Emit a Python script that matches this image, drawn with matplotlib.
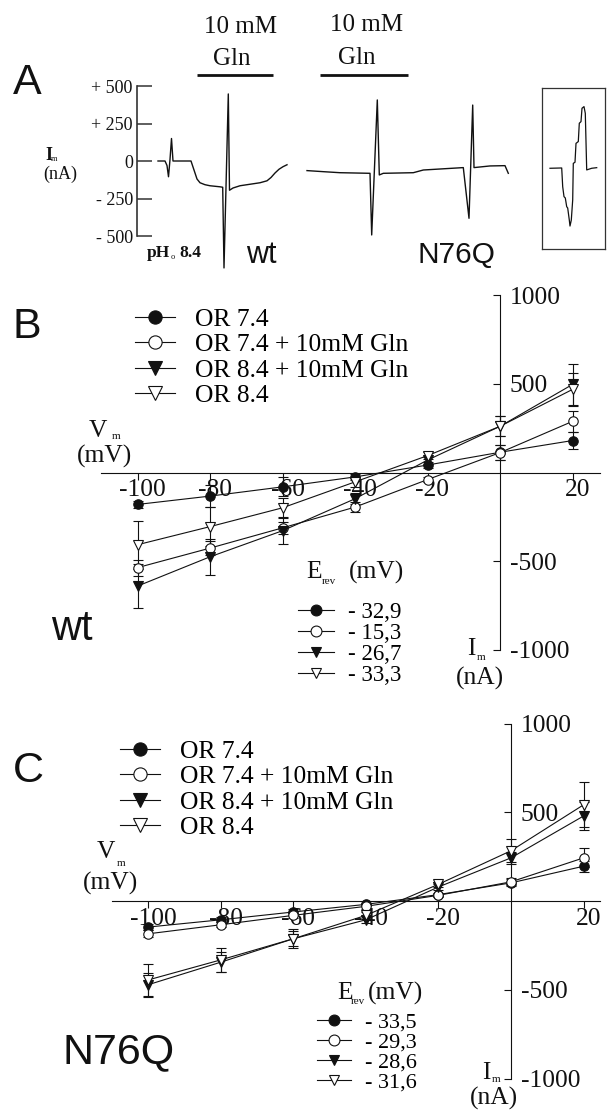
import matplotlib
matplotlib.use('Agg')
import matplotlib.pyplot as plt
from matplotlib.transforms import ScaledTranslation

plt.rcParams['axes.unicode_minus'] = False

W, H, DPI = 607, 1111, 100
SERIF = 'Liberation Serif'
SANS = 'Liberation Sans'
INK = '#111111'

# ---------------- data ----------------
# Panel A: current traces, t in s from start of each trace, I in nA
wt_trace_t = [0, 7, 9, 10.5, 12, 13.5, 15, 33, 36, 39, 42, 47, 52, 62, 64.7, 66,
              70.3, 71.5, 75, 82, 92, 102, 109, 113, 117, 121, 125, 129]
wt_trace_i = [0, 0, -30, -105, 10, 150, 0, 0, -60, -120, -145, -158, -165, -172, -175, -713,
              447, -195, -180, -165, -155, -145, -132, -110, -80, -55, -38, -25]
n76q_trace_t = [0, 16, 33, 63, 64.7, 70.3, 72.3, 76.3, 106.3, 116.3, 156.3, 162, 165.7,
                167, 183, 198, 201.3]
n76q_trace_i = [-64, -71, -78, -82, -493, 407, -93, -82, -78, -60, -44, -382, 373,
                -44, -33, -31, -82]
inset_trace_t = [0, 11.7, 12.7, 14, 15.3, 16.7, 17.7, 19.3, 20, 21.3, 22.7, 23.3, 25, 26,
                 28.3, 29.3, 31, 32, 34, 35.3, 36.7, 41.7, 46.7]
inset_trace_i = [-2, 0, -125, -191, -200, -258, -267, -347, -387, -347, -213, 31, 38, 164,
                 176, 298, 309, 398, 409, 364, -13, -2, 2]
wt_gln = [39, 115]
n76q_gln = [13, 101]
scale_ticks = [-500, -250, 0, 250, 500]
scale_labels = ['- 500', '- 250', '0', '+ 250', '+ 500']

# Panels B, C: I-V relations
vm = [-100, -80, -60, -40, -20, 0, 20]
x_ticks = [-100, -80, -60, -40, -20, 20]
y_ticks = [-1000, -500, 500, 1000]
series_names = ['OR 7.4', 'OR 7.4 + 10mM Gln', 'OR 8.4 + 10mM Gln', 'OR 8.4']

wt_or74 = [-180, -133, -81, -25, 42, 114, 180]
wt_or74_err = [20, 60, 53, 15, 15, 42, 48]
wt_or74_gln = [-536, -426, -312, -195, -40, 112, 288]
wt_or74_gln_err = [45, 40, 35, 30, 15, 42, 60]
wt_or84_gln = [-640, -475, -328, -148, 70, 260, 496]
wt_or84_gln_err = [123, 102, 76, 30, 20, 57, 114]
wt_or84 = [-407, -305, -199, -53, 95, 260, 468]
wt_or84_err = [136, 110, 57, 30, 20, 57, 95]
wt_erev = ['- 32,9', '- 15,3', '- 26,7', '- 33,3']

n_or74 = [-147, -106, -62, -19, 36, 102, 196]
n_or74_err = [15, 15, 15, 10, 10, 20, 32]
n_or74_gln = [-185, -134, -81, -30, 32, 108, 243]
n_or74_gln_err = [20, 15, 15, 15, 10, 20, 53]
n_or84_gln = [-472, -345, -213, -106, 79, 243, 479]
n_or84_gln_err = [68, 57, 43, 20, 15, 32, 79]
n_or84 = [-445, -332, -213, -81, 94, 283, 542]
n_or84_err = [90, 68, 53, 20, 15, 64, 126]
n_erev = ['- 33,5', '- 29,3', '- 28,6', '- 31,6']

# ---------------- figure ----------------
fig = plt.figure(figsize=(W / DPI, H / DPI), dpi=DPI)


def rect(x0, y0, x1, y1):
    return [x0 / W, 1 - y1 / H, (x1 - x0) / W, (y1 - y0) / H]


def put(x, y, s, **kw):
    kw.setdefault('color', INK)
    return fig.text(x / W, 1 - y / H, s, **kw)


# ---- Panel A ----
axA = fig.add_axes(rect(137, 70, 520, 275))
axA.set_xlim(0, 383)
axA.set_ylim(-760, 606.7)
off_wt, off_n = 21, 170
axA.plot([t + off_wt for t in wt_trace_t], wt_trace_i, color=INK, lw=1.0, clip_on=False)
axA.plot([t + off_n for t in n76q_trace_t], n76q_trace_i, color=INK, lw=1.0, clip_on=False)
bar_tr = axA.get_xaxis_transform()
axA.plot([off_wt + wt_gln[0], off_wt + wt_gln[1]], [0.9756, 0.9756], transform=bar_tr,
         color=INK, lw=2.0, clip_on=False, solid_capstyle='butt')
axA.plot([off_n + n76q_gln[0], off_n + n76q_gln[1]], [0.9756, 0.9756], transform=bar_tr,
         color=INK, lw=2.0, clip_on=False, solid_capstyle='butt')
for s in ['top', 'right', 'bottom']:
    axA.spines[s].set_visible(False)
axA.spines['left'].set_bounds(-500, 500)
axA.spines['left'].set_linewidth(1.2)
axA.spines['left'].set_color('#333333')
axA.set_xticks([])
axA.set_yticks(scale_ticks, labels=scale_labels)
axA.tick_params(axis='y', direction='in', length=11, width=1.1, pad=3, labelsize=13,
                colors='#333333', labelcolor=INK, labelfontfamily=SERIF)
axA.patch.set_visible(False)

# inset
axI = fig.add_axes(rect(542, 88, 605, 249))
axI.set_xlim(-8, 55)
axI.set_ylim(-540, 533)
axI.plot(inset_trace_t, inset_trace_i, color=INK, lw=0.9)
axI.set_xticks([])
axI.set_yticks([])
for s in axI.spines.values():
    s.set_linewidth(0.9)
    s.set_color('#333333')

put(13, 94, 'A', fontsize=31, family=SANS)
put(241, 27, '10 mM', fontsize=18, family=SERIF, ha='center', va='center')
put(232, 59, 'Gln', fontsize=18, family=SERIF, ha='center', va='center')
put(367, 25, '10 mM', fontsize=18, family=SERIF, ha='center', va='center')
put(357, 58, 'Gln', fontsize=18, family=SERIF, ha='center', va='center')
put(45, 155, 'I', fontsize=13, family=SERIF, weight='bold', va='center')
put(51, 159, 'm', fontsize=6, family=SERIF, va='center')
put(60, 174, '(nA)', fontsize=13, family=SERIF, ha='center', va='center')
put(147, 253, 'pH', fontsize=12.5, family=SERIF, weight='bold', va='center')
put(171, 257, 'o', fontsize=6, family=SERIF, va='center')
put(179, 253, '8.4', fontsize=12.5, family=SERIF, weight='bold', va='center')
put(246, 263, 'wt', fontsize=22, family=SANS)
put(417, 263, 'N76Q', fontsize=21.5, family=SANS)

# ---- Panels B, C ----
styles = [dict(marker='o', mfc=INK), dict(marker='o', mfc='white'),
          dict(marker='v', mfc=INK), dict(marker='v', mfc='white')]


def iv_panel(xz, sx, yz, sy, xlim, series, errs, names, erev, leg1_xy, leg2_xy,
             leg2_size, leg2_spacing):
    ylim = (-1100, 1100)
    x0 = xz + xlim[0] * sx
    x1 = xz + xlim[1] * sx
    y0 = yz - ylim[1] * sy
    y1 = yz - ylim[0] * sy
    ax = fig.add_axes(rect(x0, y0, x1, y1))
    ax.set_xlim(*xlim)
    ax.set_ylim(*ylim)
    ax.patch.set_visible(False)
    handles = []
    for ys, es, st in zip(series, errs, styles):
        c = ax.errorbar(vm, ys, yerr=es, color=INK, lw=0.8, elinewidth=0.8, capsize=3.6,
                        capthick=0.8, marker=st['marker'], ms=6.8, mfc=st['mfc'], mec=INK,
                        mew=0.8, zorder=3)
        c.lines[0].set_clip_on(False)
        for a in c.lines[1]:
            a.set_clip_on(False)
        for a in c.lines[2]:
            a.set_clip_on(False)
        handles.append(c.lines[0])
    ax.spines['top'].set_visible(False)
    ax.spines['left'].set_visible(False)
    ax.spines['right'].set_position(('data', 0))
    ax.spines['right'].set_bounds(-1000, 1000)
    ax.spines['bottom'].set_position(('data', 0))
    for s in ['right', 'bottom']:
        ax.spines[s].set_linewidth(0.8)
        ax.spines[s].set_color(INK)
    ax.yaxis.tick_right()
    ax.set_xticks(x_ticks, labels=[str(v) for v in x_ticks])
    ax.set_yticks(y_ticks, labels=[str(v) for v in y_ticks])
    ax.tick_params(axis='x', direction='out', length=5, width=0.8, pad=0, labelsize=18.4,
                   labelfontfamily=SERIF, colors=INK)
    ax.tick_params(axis='y', direction='in', length=5, width=0.8, pad=7, labelsize=18.4,
                   labelfontfamily=SERIF, colors=INK)
    shift = ScaledTranslation(5 / DPI, 0, fig.dpi_scale_trans)
    for lab in ax.get_xticklabels():
        lab.set_transform(lab.get_transform() + shift)
    leg1 = ax.legend(handles, names, loc='upper left',
                     bbox_to_anchor=(leg1_xy[0] / W, 1 - leg1_xy[1] / H),
                     bbox_transform=fig.transFigure, frameon=False, borderpad=0,
                     borderaxespad=0, handlelength=1.55, handletextpad=0.8,
                     labelspacing=0.1, markerscale=1.4,
                     prop={'family': SERIF, 'size': 18.4})
    ax.add_artist(leg1)
    ax.legend(handles, erev, loc='upper left',
              bbox_to_anchor=(leg2_xy[0] / W, 1 - leg2_xy[1] / H),
              bbox_transform=fig.transFigure, frameon=False, borderpad=0,
              borderaxespad=0, handlelength=1.55, handletextpad=0.62,
              labelspacing=leg2_spacing, markerscale=1.15,
              prop={'family': SERIF, 'size': leg2_size})
    return ax


axB = iv_panel(500, 3.625, 472.5, 0.1775, (-110, 27.5),
               [wt_or74, wt_or74_gln, wt_or84_gln, wt_or84],
               [wt_or74_err, wt_or74_gln_err, wt_or84_gln_err, wt_or84_err],
               series_names, wt_erev, (135, 308), (298, 602), 16.5, 0.0)
axC = iv_panel(511, 3.63, 901, 0.1775, (-110, 24.5),
               [n_or74, n_or74_gln, n_or84_gln, n_or84],
               [n_or74_err, n_or74_gln_err, n_or84_gln_err, n_or84_err],
               series_names, n_erev, (120, 740), (317, 1012), 16.0, -0.02)

# panel B labels
put(13, 338, 'B', fontsize=31, family=SANS)
put(89, 431, 'V', fontsize=18.4, family=SERIF, va='center')
put(112, 437, 'm', fontsize=8, family=SERIF, va='center')
put(104, 456, '(mV)', fontsize=18.4, family=SERIF, ha='center', va='center')
put(467, 649, 'I', fontsize=18.4, family=SERIF, va='center')
put(477, 657, 'm', fontsize=8, family=SERIF, va='center')
put(480, 678, '(nA)', fontsize=18.4, family=SERIF, ha='center', va='center')
put(306, 572, 'E', fontsize=18.4, family=SERIF, va='center')
put(322, 581, 'rev', fontsize=8, family=SERIF, va='center')
put(377, 572, '(mV)', fontsize=18.4, family=SERIF, ha='center', va='center')
put(51, 640, 'wt', fontsize=30, family=SANS)

# panel C labels
put(13, 782, 'C', fontsize=31, family=SANS)
put(97, 852, 'V', fontsize=18.4, family=SERIF, va='center')
put(117, 864, 'm', fontsize=8, family=SERIF, va='center')
put(110, 883, '(mV)', fontsize=18.4, family=SERIF, ha='center', va='center')
put(482, 1073, 'I', fontsize=18.4, family=SERIF, va='center')
put(492, 1080, 'm', fontsize=8, family=SERIF, va='center')
put(494, 1098, '(nA)', fontsize=18.4, family=SERIF, ha='center', va='center')
put(337, 993, 'E', fontsize=18.4, family=SERIF, va='center')
put(351, 1002, 'rev', fontsize=8, family=SERIF, va='center')
put(396, 993, '(mV)', fontsize=18.4, family=SERIF, ha='center', va='center')
put(62, 1063, 'N76Q', fontsize=31, family=SANS)

fig.savefig('out.png', dpi=DPI)
